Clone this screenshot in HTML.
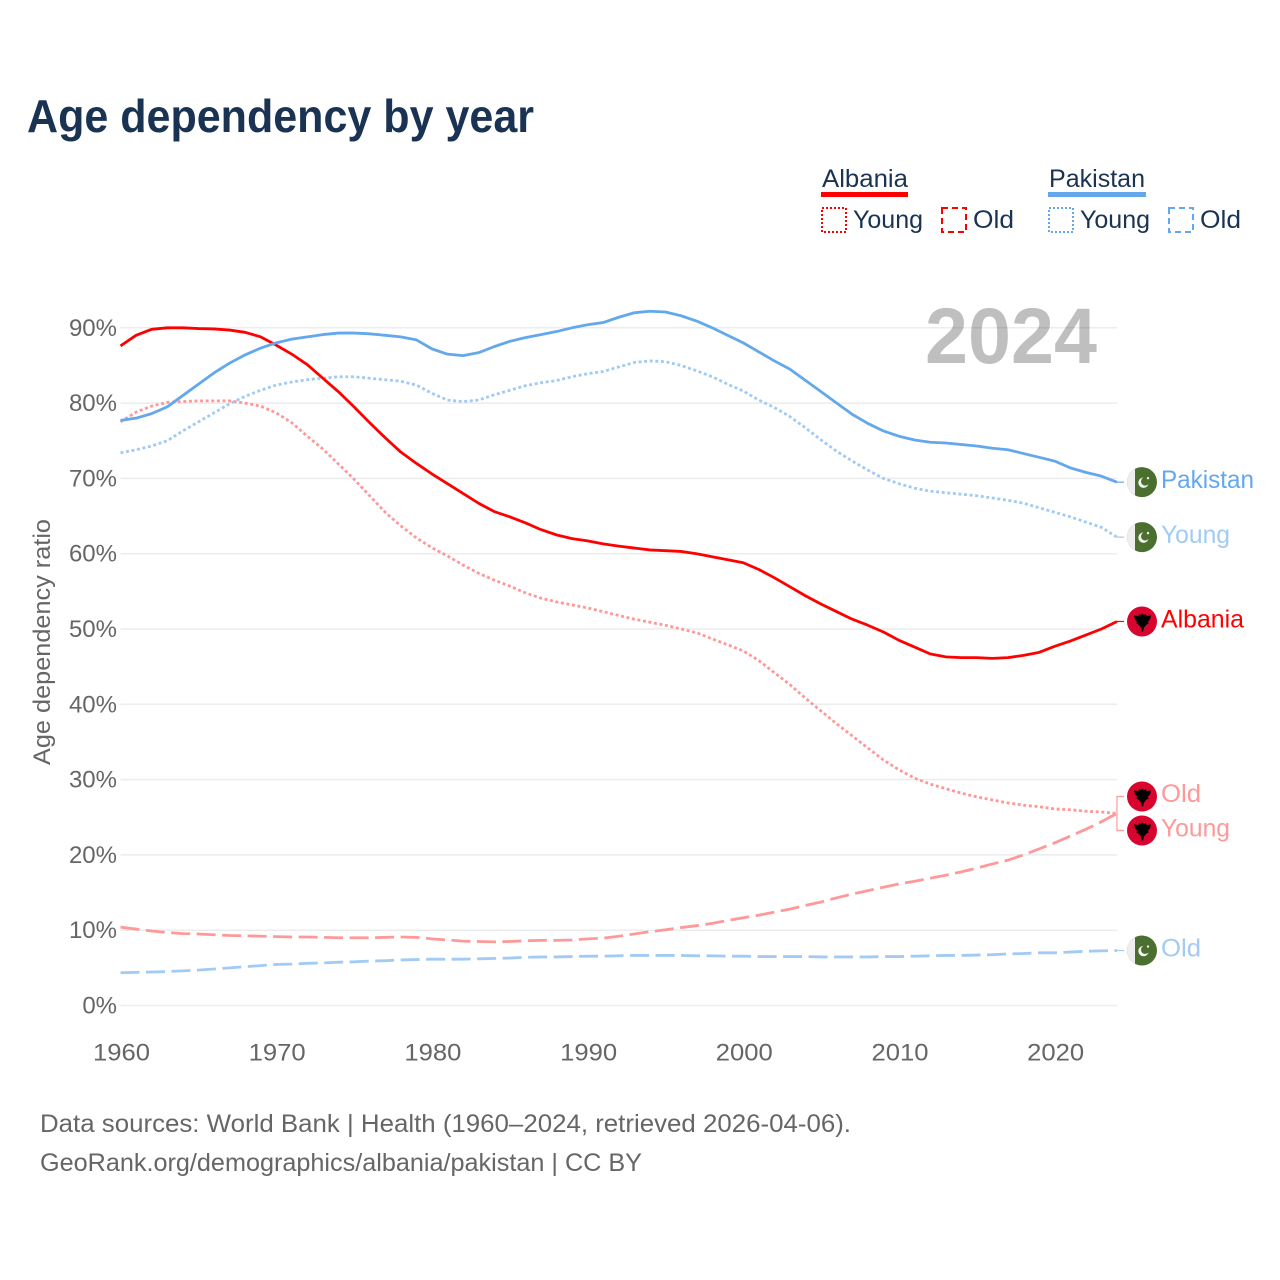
<!DOCTYPE html>
<html lang="en">
<head>
<meta charset="utf-8">
<title>Age dependency by year</title>
<style>
html,body{margin:0;padding:0;background:#fff}
svg{display:block}
text{font-family:"Liberation Sans",sans-serif}
</style>
</head>
<body>
<svg id="chart" width="1280" height="1280" viewBox="0 0 1280 1280" xmlns="http://www.w3.org/2000/svg">
<rect width="1280" height="1280" fill="#fff"/>
<text x="27" y="132" font-size="46" font-weight="700" fill="#1a3352" textLength="507" lengthAdjust="spacingAndGlyphs">Age dependency by year</text>
<g id="grid"></g>
<text x="925" y="363" font-size="79" font-weight="700" fill="#000" fill-opacity="0.25" textLength="172" lengthAdjust="spacingAndGlyphs">2024</text>
<g id="ylabels"></g>
<g id="xlabels"></g>
<text transform="translate(50,642) rotate(-90)" text-anchor="middle" font-size="24" fill="#666" textLength="246" lengthAdjust="spacingAndGlyphs">Age dependency ratio</text>
<g id="series"></g>
<g id="ends"></g>

<g>
  <g>
    <text x="822" y="187" font-size="25" fill="#1a3352" textLength="86" lengthAdjust="spacingAndGlyphs">Albania</text>
    <rect x="821" y="192" width="87" height="5" fill="#ff0000"/>
  </g>
  <g>
    <rect x="822" y="208" width="24" height="24" fill="none" stroke="#ff0000" stroke-width="2" stroke-dasharray="2 2"/>
    <text x="853" y="228" font-size="25" fill="#1a3352" textLength="70" lengthAdjust="spacingAndGlyphs">Young</text>
  </g>
  <g>
    <rect x="942" y="208" width="24" height="24" fill="none" stroke="#ff0000" stroke-width="2" stroke-dasharray="6 4"/>
    <text x="973" y="228" font-size="25" fill="#1a3352" textLength="41" lengthAdjust="spacingAndGlyphs">Old</text>
  </g>
  <g>
    <text x="1049" y="187" font-size="25" fill="#1a3352" textLength="96" lengthAdjust="spacingAndGlyphs">Pakistan</text>
    <rect x="1048" y="192" width="98" height="5" fill="#63a8ec"/>
  </g>
  <g>
    <rect x="1049" y="208" width="24" height="24" fill="none" stroke="#63a8ec" stroke-width="2" stroke-dasharray="2 2"/>
    <text x="1080" y="228" font-size="25" fill="#1a3352" textLength="70" lengthAdjust="spacingAndGlyphs">Young</text>
  </g>
  <g>
    <rect x="1169" y="208" width="24" height="24" fill="none" stroke="#63a8ec" stroke-width="2" stroke-dasharray="6 4"/>
    <text x="1200" y="228" font-size="25" fill="#1a3352" textLength="41" lengthAdjust="spacingAndGlyphs">Old</text>
  </g>
</g>

<text x="40" y="1132" font-size="25" fill="#666" textLength="811" lengthAdjust="spacingAndGlyphs">Data sources: World Bank | Health (1960–2024, retrieved 2026-04-06).</text>
<text x="40" y="1171" font-size="25" fill="#666" textLength="602" lengthAdjust="spacingAndGlyphs">GeoRank.org/demographics/albania/pakistan | CC BY</text>
</svg>

<script>
const startYear = 1960;
const xTicks = ['1960','1970','1980','1990','2000','2010','2020'];
const yTicks = [0,10,20,30,40,50,60,70,80,90];

const albaniaTotal = [87.6,89.0,89.8,90.0,90.0,89.9,89.85,89.7,89.4,88.8,
  87.7,86.5,85.1,83.3,81.5,79.5,77.4,75.4,73.5,72.0,
  70.6,69.3,68.0,66.7,65.6,64.9,64.1,63.2,62.5,62.0,
  61.7,61.3,61.0,60.75,60.5,60.4,60.3,60.0,59.6,59.2,
  58.8,57.9,56.8,55.6,54.4,53.3,52.3,51.3,50.5,49.6,
  48.5,47.6,46.7,46.3,46.2,46.2,46.1,46.2,46.5,46.9,
  47.7,48.4,49.2,50.0,51.0];
const albaniaYoung = [77.5,78.8,79.6,80.1,80.2,80.3,80.3,80.3,80.0,79.6,
  78.7,77.4,75.6,73.9,71.9,69.9,67.7,65.5,63.7,62.1,
  60.8,59.7,58.5,57.4,56.5,55.7,54.8,54.1,53.6,53.2,
  52.8,52.3,51.8,51.3,50.9,50.5,50.0,49.5,48.7,47.9,
  47.1,45.8,44.2,42.6,40.8,39.1,37.4,35.8,34.2,32.6,
  31.3,30.2,29.4,28.8,28.2,27.7,27.3,26.9,26.6,26.4,
  26.1,26.0,25.8,25.7,25.5];
const albaniaOld = [10.4,10.15,9.9,9.7,9.55,9.5,9.4,9.3,9.25,9.2,
  9.15,9.1,9.1,9.05,9.0,9.0,9.0,9.05,9.1,9.05,
  8.85,8.7,8.55,8.5,8.45,8.5,8.6,8.65,8.65,8.7,
  8.85,8.95,9.2,9.5,9.8,10.05,10.35,10.6,10.9,11.3,
  11.65,12.0,12.4,12.8,13.3,13.75,14.3,14.8,15.25,15.7,
  16.15,16.5,16.9,17.3,17.75,18.25,18.8,19.3,20.0,20.8,
  21.6,22.5,23.4,24.4,25.5];
const pakistanTotal = [77.7,78.0,78.6,79.5,81.0,82.5,84.0,85.3,86.4,87.3,
  88.0,88.5,88.8,89.1,89.3,89.3,89.2,89.0,88.8,88.4,
  87.2,86.5,86.3,86.7,87.5,88.2,88.7,89.1,89.5,90.0,
  90.4,90.7,91.4,92.0,92.2,92.1,91.6,90.9,90.0,89.0,
  88.0,86.8,85.6,84.5,83.0,81.5,80.0,78.5,77.3,76.3,
  75.6,75.1,74.8,74.7,74.5,74.3,74.0,73.8,73.3,72.8,
  72.3,71.4,70.8,70.3,69.5];
const pakistanYoung = [73.4,73.8,74.3,75.0,76.3,77.5,78.7,79.9,80.9,81.7,
  82.4,82.8,83.1,83.3,83.5,83.5,83.3,83.1,82.9,82.4,
  81.3,80.4,80.2,80.4,81.1,81.7,82.3,82.7,83.0,83.5,
  83.9,84.2,84.8,85.4,85.6,85.5,85.0,84.3,83.5,82.5,
  81.6,80.4,79.4,78.2,76.7,75.1,73.6,72.3,71.1,70.0,
  69.3,68.7,68.3,68.1,67.9,67.7,67.4,67.1,66.7,66.1,
  65.5,64.9,64.2,63.5,62.2];
const pakistanOld = [4.35,4.4,4.45,4.5,4.6,4.7,4.85,5.0,5.15,5.3,
  5.45,5.5,5.6,5.65,5.75,5.8,5.9,5.95,6.05,6.1,
  6.15,6.15,6.15,6.2,6.25,6.3,6.4,6.45,6.45,6.5,
  6.55,6.55,6.6,6.65,6.65,6.65,6.65,6.6,6.6,6.55,
  6.55,6.5,6.5,6.5,6.5,6.45,6.45,6.45,6.45,6.5,
  6.5,6.55,6.6,6.65,6.65,6.7,6.75,6.85,6.9,7.0,
  7.0,7.1,7.2,7.25,7.3];

const NS = 'http://www.w3.org/2000/svg';
const xScale = yearIndex => 120.5 + yearIndex * 15.57;
const yScale = pct => 1005.5 - pct * 7.53;

function make(tag, attrs, parent, text) {
  const el = document.createElementNS(NS, tag);
  for (const k in attrs) el.setAttribute(k, attrs[k]);
  if (text !== undefined) el.textContent = text;
  parent.appendChild(el);
  return el;
}

const gridG = document.getElementById('grid');
const yG = document.getElementById('ylabels');
yTicks.forEach(t => {
  const line = make('line', {x1:120.5, x2:1117, y1:yScale(t), y2:yScale(t), stroke:'#ececec', 'stroke-width':1.5}, gridG);
  
  
  const lab = make('text', {x:117, y:yScale(t)+8, 'text-anchor':'end', 'font-size':24, fill:'#666'}, yG, t + '%');
  
  
});

const xG = document.getElementById('xlabels');
xTicks.forEach(t => {
  const lab = make('text', {x:xScale(Number(t)-startYear)+1, y:1060.5, 'text-anchor':'middle', 'font-size':24, fill:'#666', textLength:57, lengthAdjust:'spacingAndGlyphs'}, xG, t);
  
  
});

const seriesList = [
  {id:'pakistan-old',   values:pakistanOld,   color:'#a1cbf4', dash:'19 6.5', label:'Old',      flag:'pk', w:40, dy:0},
  {id:'albania-old',    values:albaniaOld,    color:'#ff9999', dash:'19 6.5', label:'Old',      flag:'al', w:40, dy:-17},
  {id:'albania-young',  values:albaniaYoung,  color:'#ff9999', dash:'3 2.6',  label:'Young',    flag:'al', w:69, dy:17},
  {id:'pakistan-young', values:pakistanYoung, color:'#a1cbf4', dash:'3 2.6',  label:'Young',    flag:'pk', w:69, dy:0},
  {id:'albania-total',  values:albaniaTotal,  color:'#ff0000', dash:'',       label:'Albania',  flag:'al', w:83, dy:0},
  {id:'pakistan-total', values:pakistanTotal, color:'#63a8ec', dash:'',       label:'Pakistan', flag:'pk', w:93, dy:0}
];

const seriesG = document.getElementById('series');
const endsG = document.getElementById('ends');

function drawFlag(kind, cx, cy, parent) {
  if (kind === 'pk') {
    make('circle', {cx:cx, cy:cy, r:15, fill:'#4b6f2e'}, parent);
    make('path', {d:`M${cx-7} ${cy-13.27}A15 15 0 0 0 ${cx-7} ${cy+13.27}Z`, fill:'#eeeeee'}, parent);
    make('circle', {cx:cx+1.5, cy:cy+0.5, r:5.2, fill:'#f2f2f2'}, parent);
    make('circle', {cx:cx+3.2, cy:cy-0.8, r:4.2, fill:'#4b6f2e'}, parent);
    make('circle', {cx:cx+6, cy:cy-4, r:1.2, fill:'#f2f2f2'}, parent);
  } else {
    make('circle', {cx:cx, cy:cy, r:15, fill:'#d8062e'}, parent);
    make('path', {d:`M${cx} ${cy-8}l2 1.5 2-1 .5 2 4.5-.5-1 4-2.5 2.5 1.5 1-3 2-1 1.5 -1 1-1 4-1 0-1-4-1-1-1-1.5-3-2 1.5-1-2.5-2.5-1-4 4.5 .5 .5-2 2 1z`, fill:'#000'}, parent);
  }
}

seriesList.forEach(s => {
  const pts = s.values.map((v, i) => xScale(i).toFixed(2) + ',' + yScale(v).toFixed(2)).join(' ');
  const isMain = s.dash === '';
  const line = make('polyline', {points:pts, fill:'none', stroke:s.color, 'stroke-width':2.8, 'stroke-linejoin':'round'}, seriesG);
  if (!isMain) line.setAttribute('stroke-dasharray', s.dash);
  
  

  const lastX = xScale(s.values.length - 1);
  const lastY = yScale(s.values[s.values.length - 1]);
  const endY = lastY + s.dy;
  const conn = make('path', {d:`M${lastX} ${lastY}L${lastX} ${endY}L1124 ${endY}`, fill:'none', stroke:s.color, 'stroke-width':1.2}, seriesG);
  
  

  const flagG = make('g', {}, endsG);
  
  
  drawFlag(s.flag, 1142, endY, flagG);

  const labelShift = s.dy < 0 ? 5.5 : (s.dy > 0 ? 6 : 6);
  const lab = make('text', {x:1161, y:endY + labelShift, 'font-size':25, fill:s.color, textLength:s.w, lengthAdjust:'spacingAndGlyphs'}, endsG, s.label);
  
  
});
</script>
</body>
</html>
